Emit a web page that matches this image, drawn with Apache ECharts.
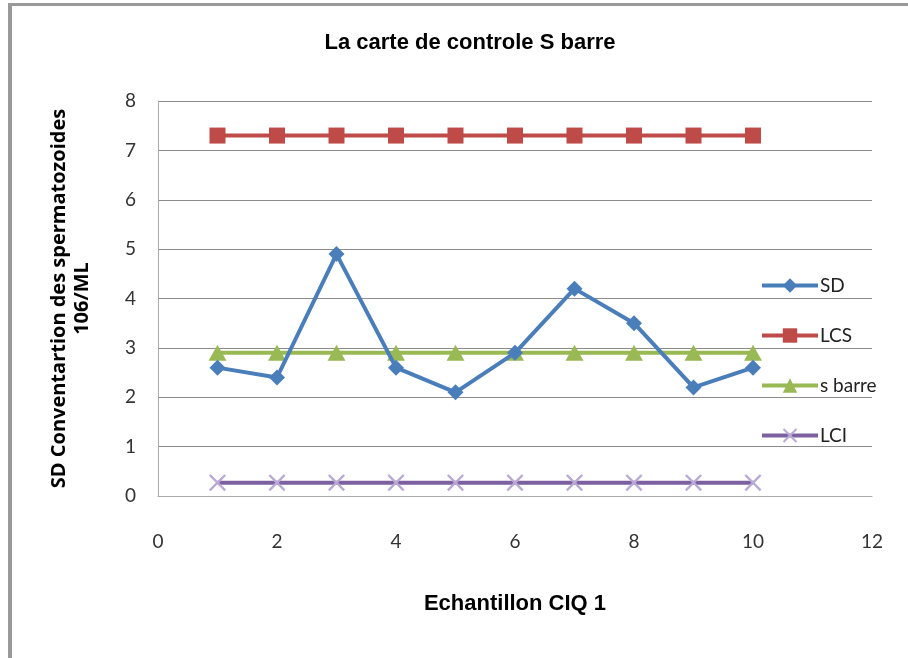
<!DOCTYPE html>
<html>
<head>
<meta charset="utf-8">
<script src="https://cdn.jsdelivr.net/npm/echarts@6/dist/echarts.min.js"></script>
<style>
  html, body { margin: 0; padding: 0; background: #fff; }
  #chart { width: 908px; height: 658px; }
</style>
</head>
<body>
<div id="chart"></div>
<script>
// Sample numbers (x axis) and the control-chart series
var samples = [1, 2, 3, 4, 5, 6, 7, 8, 9, 10];
var sdValues = [2.6, 2.4, 4.9, 2.6, 2.1, 2.9, 4.2, 3.5, 2.2, 2.6];
var lcsValues = [7.3, 7.3, 7.3, 7.3, 7.3, 7.3, 7.3, 7.3, 7.3, 7.3];
var sBarreValues = [2.9, 2.9, 2.9, 2.9, 2.9, 2.9, 2.9, 2.9, 2.9, 2.9];
var lciValues = [0.27, 0.27, 0.27, 0.27, 0.27, 0.27, 0.27, 0.27, 0.27, 0.27];
var seriesNames = ['SD', 'LCS', 's barre', 'LCI'];
var xTicks = [0, 2, 4, 6, 8, 10, 12];
var yTicks = [0, 1, 2, 3, 4, 5, 6, 7, 8];

function pairs(values) {
  return samples.map(function (x, i) { return [x, values[i]]; });
}

var labelFont = '"Lato", "Open Sans", sans-serif';
var titleFont = '"Liberation Sans Narrow", "Liberation Sans", Arial, sans-serif';
var crossSymbol = 'path://M0 1L1 0L5 4L9 0L10 1L6 5L10 9L9 10L5 6L1 10L0 9L4 5Z';

var chart = echarts.init(document.getElementById('chart'), null, { renderer: 'canvas' });
chart.setOption({
  backgroundColor: '#ffffff',
  animation: false,
  graphic: [
    { type: 'rect', shape: { x: 8, y: 3, width: 4, height: 660 }, style: { fill: '#9a9a9a' } },
    { type: 'rect', shape: { x: 8, y: 3, width: 910, height: 3 }, style: { fill: '#9a9a9a' } }
  ],
  title: {
    text: 'La carte de controle S barre',
    left: 465, top: 27, textAlign: 'center',
    textStyle: { fontFamily: titleFont, fontSize: 22, fontWeight: 'bold', color: '#000' }
  },
  grid: { left: 158, top: 101, right: 36, bottom: 162 },
  legend: {
    orient: 'vertical',
    left: 755, top: 271,
    itemWidth: 56, itemHeight: 18, itemGap: 31,
    data: seriesNames,
    lineStyle: { width: 4 },
    textStyle: { fontFamily: labelFont, fontSize: 19, color: '#222', padding: [0, 0, 0, -3] }
  },
  xAxis: {
    type: 'value', min: 0, max: 12, interval: 2,
    name: 'Echantillon CIQ 1',
    nameLocation: 'middle', nameGap: 97,
    nameTextStyle: { fontFamily: titleFont, fontSize: 22, fontWeight: 'bold', color: '#000' },
    axisLine: { show: true, lineStyle: { color: '#aaaaaa', width: 1 } },
    axisTick: { show: false },
    splitLine: { show: false },
    axisLabel: {
      margin: 36, fontFamily: labelFont, fontSize: 19, color: '#333',
      formatter: function (v) { return xTicks.indexOf(v) >= 0 ? String(v) : ''; }
    }
  },
  yAxis: {
    type: 'value', min: 0, max: 8, interval: 1,
    name: 'SD Conventartion des spermatozoides\n106/ML',
    nameLocation: 'middle', nameGap: 64, nameRotate: 90,
    nameTextStyle: { fontFamily: '"Open Sans", sans-serif', fontSize: 20, fontWeight: 'bold', color: '#000', lineHeight: 23 },
    axisLine: { show: true, lineStyle: { color: '#aaaaaa', width: 1 } },
    axisTick: { show: false },
    splitLine: { show: true, lineStyle: { color: '#8c8c8c', width: 1 } },
    axisLabel: {
      margin: 22, fontFamily: labelFont, fontSize: 19, color: '#333',
      formatter: function (v) { return yTicks.indexOf(v) >= 0 ? String(v) : ''; }
    }
  },
  series: [
    {
      name: 'SD', type: 'line', data: pairs(sdValues), z: 5,
      symbol: 'diamond', symbolSize: 16,
      lineStyle: { color: '#4a7ebb', width: 4 },
      itemStyle: { color: '#4a7ebb' }
    },
    {
      name: 'LCS', type: 'line', data: pairs(lcsValues),
      symbol: 'rect', symbolSize: 16,
      lineStyle: { color: '#be4b48', width: 4 },
      itemStyle: { color: '#be4b48' }
    },
    {
      name: 's barre', type: 'line', data: pairs(sBarreValues), z: 4,
      symbol: 'triangle', symbolSize: [18, 16],
      lineStyle: { color: '#98b954', width: 4 },
      itemStyle: { color: '#98b954' }
    },
    {
      name: 'LCI', type: 'line', data: pairs(lciValues),
      symbol: crossSymbol, symbolSize: 17,
      lineStyle: { color: '#7d60a0', width: 4 },
      itemStyle: { color: '#b9a9d4' }
    }
  ]
});
</script>
</body>
</html>
